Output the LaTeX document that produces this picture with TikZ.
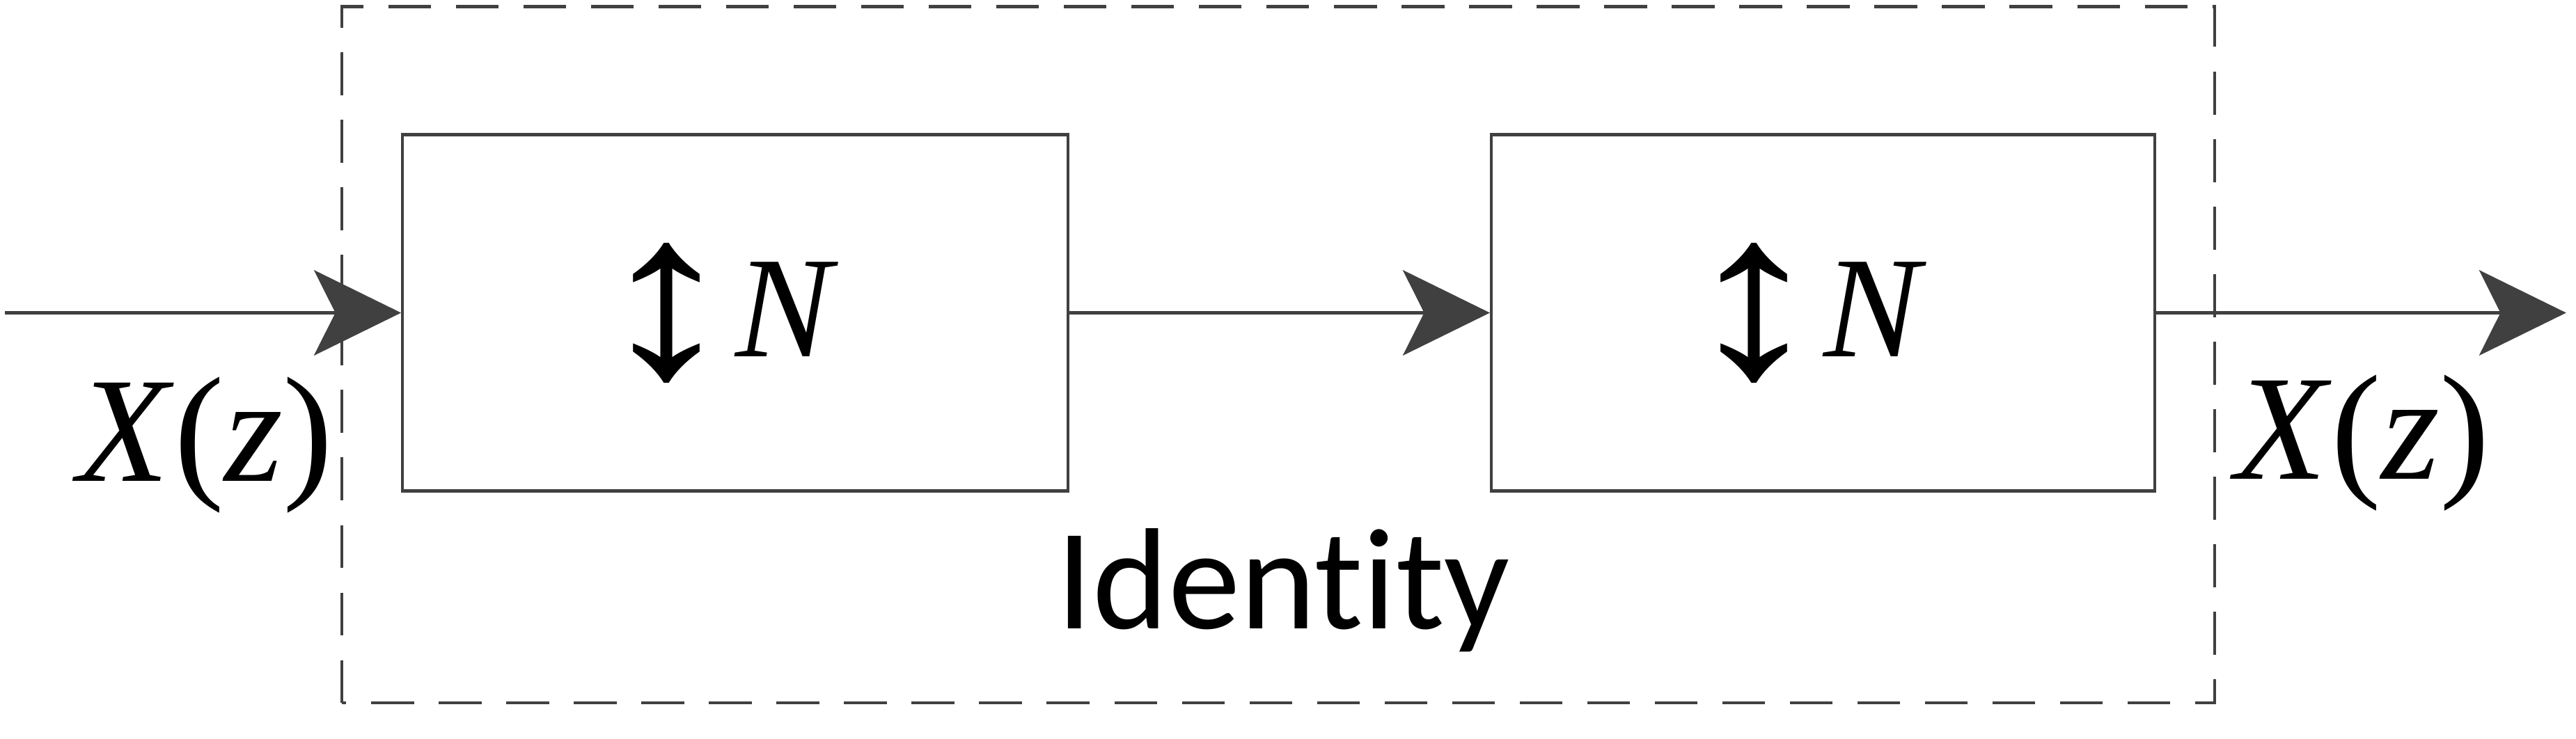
\documentclass[tikz,border=0pt]{standalone}
\usepackage{fontspec}
\setmainfont{Liberation Serif}
\newfontfamily\idfont[Ligatures=NoCommon]{Carlito}
\usetikzlibrary{arrows.meta,positioning}
\definecolor{linegray}{HTML}{404040}
\newcommand{\updownN}{\raisebox{-0.045cm}{\scalebox{1.2}[1]{\fontsize{41}{41}\selectfont ↕}}\hspace{-0.01cm}\raisebox{0.07cm}{\textit{N}}\rule{0.22cm}{0pt}}
\begin{document}
\begin{tikzpicture}[
  block/.style={draw=linegray, line width=0.5pt, minimum width=4.05cm, minimum height=2.17cm, font=\fontsize{25}{30}\selectfont},
  sig/.style={draw=linegray, line width=0.5pt, -{Stealth[length=5.3mm, width=5.2mm, inset=1.3mm, fill=linegray]}},
  lbl/.style={font=\fontsize{26}{31}\selectfont}]
\useasboundingbox (0,0) rectangle (15.68,4.50);
\draw[linegray, line width=0.5pt, dash pattern=on 7.4pt off 4.3pt] (2.08,0.22) rectangle (13.48,4.46);
\node[block] (down) at (4.475,2.595) {\updownN};
\node[block, right=2.56cm of down, minimum width=4.04cm] (up) {\updownN};
\coordinate (in) at (0.03,2.595);
\coordinate (out) at (15.62,2.595);
\draw[sig] (in) -- (down);
\draw[sig] (down) -- (up);
\draw[sig] (up) -- (out);
\node[lbl] (xin) at (1.25,1.79) {\textit{X}(\textit{z})};
\node[lbl] (xout) at (14.38,1.80) {\textit{X}(\textit{z})};
\node[font=\idfont\fontsize{25}{30}\selectfont, anchor=base] (ident) at (7.81,0.67) {Identity};
\end{tikzpicture}
\end{document}
